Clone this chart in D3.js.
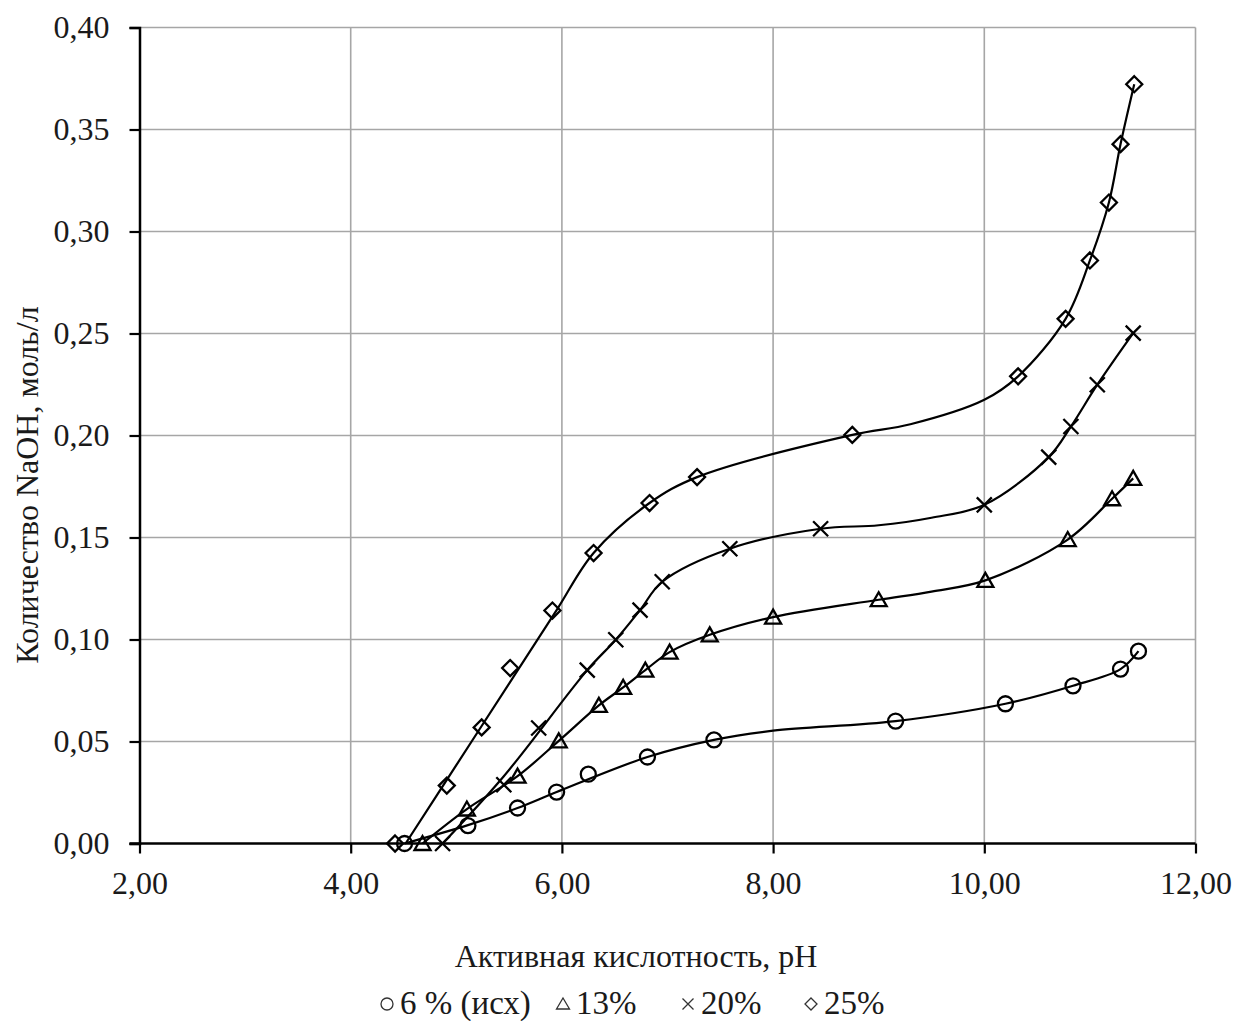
<!DOCTYPE html>
<html><head><meta charset="utf-8">
<script src="https://cdn.jsdelivr.net/npm/d3@7"></script>
<style>body{margin:0;background:#fff}svg{display:block}</style>
</head><body><svg id="c" width="1237" height="1021"></svg>
<script>
// ---- data ----
const xTicks = [2, 4, 6, 8, 10, 12];
const xTickLabels = ["2,00", "4,00", "6,00", "8,00", "10,00", "12,00"];
const yTicks = [0, 0.05, 0.10, 0.15, 0.20, 0.25, 0.30, 0.35, 0.40];
const yTickLabels = ["0,00", "0,05", "0,10", "0,15", "0,20", "0,25", "0,30", "0,35", "0,40"];
const seriesNames = ["6 % (исх)", "13%", "20%", "25%"];
const xTitle = "Активная кислотность, pH";
const yTitle = "Количество NaOH, моль/л";

// measured points (markers)
const ph6   = [4.51, 5.11, 5.58, 5.95, 6.25, 6.81, 7.44, 9.16, 10.20, 10.84, 11.29, 11.46];
const naoh6 = [0.000, 0.0088, 0.0174, 0.0252, 0.034, 0.0424, 0.0508, 0.060, 0.0685, 0.0773, 0.0855, 0.0943];

const ph13   = [4.68, 5.10, 5.58, 5.97, 6.35, 6.58, 6.79, 7.02, 7.40, 8.00, 9.00, 10.01, 10.79, 11.21, 11.41];
const naoh13 = [0.000, 0.0169, 0.033, 0.0503, 0.0677, 0.0765, 0.085, 0.0938, 0.1023, 0.111, 0.1195, 0.129, 0.149, 0.169, 0.179];

const ph20   = [4.87, 5.45, 5.78, 6.24, 6.51, 6.74, 6.95, 7.59, 8.45, 10.00, 10.61, 10.82, 11.07, 11.41];
const naoh20 = [0.000, 0.0288, 0.0566, 0.085, 0.0999, 0.1144, 0.1283, 0.1445, 0.1543, 0.166, 0.1894, 0.2044, 0.2249, 0.2502];

const ph25   = [4.42, 4.91, 5.24, 5.51, 5.91, 6.30, 6.83, 7.28, 8.75, 10.32, 10.77, 11.00, 11.18, 11.29, 11.42];
const naoh25 = [0.000, 0.0284, 0.0569, 0.086, 0.1142, 0.1424, 0.1669, 0.1796, 0.2003, 0.229, 0.2572, 0.2858, 0.3142, 0.3428, 0.3722];

// smoothed curves as drawn in the picture
const curvePh6   = [4.51, 5.11, 5.58, 5.95, 6.81, 7.44, 8.00, 9.16, 10.20, 10.84, 11.29, 11.46];
const curveNaoh6 = [0.000, 0.009, 0.0174, 0.0252, 0.0424, 0.0508, 0.0553, 0.060, 0.0685, 0.0773, 0.0855, 0.0943];

const curvePh13   = [4.68, 5.10, 5.58, 5.97, 6.35, 6.58, 6.79, 7.02, 7.40, 8.00, 9.00, 9.50, 10.01, 10.79, 11.21, 11.41];
const curveNaoh13 = [0.000, 0.0169, 0.033, 0.0503, 0.0677, 0.0765, 0.085, 0.0938, 0.1023, 0.111, 0.1195, 0.1235, 0.129, 0.149, 0.169, 0.179];

const curvePh20   = [4.87, 5.45, 6.24, 6.51, 6.74, 6.95, 7.59, 8.45, 9.00, 9.50, 10.00, 10.61, 10.82, 11.07, 11.41];
const curveNaoh20 = [0.000, 0.033, 0.085, 0.0999, 0.1144, 0.1283, 0.1445, 0.1543, 0.156, 0.1597, 0.166, 0.1894, 0.2044, 0.2249, 0.2502];

const curvePh25   = [4.52, 5.00, 5.50, 5.95, 6.30, 6.83, 7.28, 8.75, 9.30, 10.00, 10.32, 10.77, 11.00, 11.18, 11.29, 11.42];
const curveNaoh25 = [0.000, 0.0384, 0.0784, 0.1144, 0.1424, 0.1669, 0.1796, 0.2003, 0.2055, 0.2175, 0.229, 0.2572, 0.2858, 0.3142, 0.3428, 0.3722];

// ---- layout ----
const svg = d3.select("#c");
const FONT = "'Liberation Serif','Times New Roman',serif";
const x = d3.scaleLinear().domain([2, 12]).range([139.5, 1195.5]);
const y = d3.scaleLinear().domain([0, 0.4]).range([843.5, 27.5]);

const markerPaths = {
  circle: "M7.5,0A7.5,7.5 0 1,1 -7.5,0A7.5,7.5 0 1,1 7.5,0Z",
  triangle: "M0,-7.5L8,6.5L-8,6.5Z",
  cross: "M-7.5,-7.5L7.5,7.5M-7.5,7.5L7.5,-7.5",
  diamond: "M0,-8L8,0L0,8L-8,0Z"
};
const legendPaths = {
  circle: "M6,0A6,6 0 1,1 -6,0A6,6 0 1,1 6,0Z",
  triangle: "M0,-6L6.5,5L-6.5,5Z",
  cross: "M-5.5,-5.5L5.5,5.5M-5.5,5.5L5.5,-5.5",
  diamond: "M0,-6L6,0L0,6L-6,0Z"
};

const series = [
  {name: seriesNames[0], xs: ph6, ys: naoh6, cx: curvePh6, cy: curveNaoh6, shape: "circle"},
  {name: seriesNames[1], xs: ph13, ys: naoh13, cx: curvePh13, cy: curveNaoh13, shape: "triangle"},
  {name: seriesNames[2], xs: ph20, ys: naoh20, cx: curvePh20, cy: curveNaoh20, shape: "cross"},
  {name: seriesNames[3], xs: ph25, ys: naoh25, cx: curvePh25, cy: curveNaoh25, shape: "diamond"}
];

// gridlines
const grid = svg.append("g").attr("stroke", "#a6a6a6").attr("stroke-width", 1.6);
grid.selectAll("line.h").data(yTicks.slice(1)).join("line")
  .attr("x1", x(2)).attr("x2", x(12)).attr("y1", d => y(d)).attr("y2", d => y(d));
grid.selectAll("line.v").data(xTicks.slice(1)).join("line")
  .attr("y1", y(0)).attr("y2", y(0.4)).attr("x1", d => x(d)).attr("x2", d => x(d));

// axes
const xAxis = d3.axisBottom(x).tickValues(xTicks).tickFormat((d, i) => xTickLabels[i]).tickSizeOuter(0).tickSize(10).tickPadding(18);
const yAxis = d3.axisLeft(y).tickValues(yTicks).tickFormat((d, i) => yTickLabels[i]).tickSizeOuter(0).tickSize(10).tickPadding(20);
const gx = svg.append("g").attr("transform", `translate(0,${y(0)})`).call(xAxis);
const gy = svg.append("g").attr("transform", `translate(${x(2)},0)`).call(yAxis);
[gx, gy].forEach(g => {
  g.selectAll("path.domain").attr("stroke", "#000").attr("stroke-width", 2.5);
  g.selectAll(".tick line").attr("stroke", "#000").attr("stroke-width", 2.2);
  g.selectAll(".tick text").attr("font-family", FONT).attr("font-size", 32).attr("fill", "#1a1a1a");
});
gx.select("path.domain").attr("d", `M${x(2) - 10},0H${x(12)}`);
gx.selectAll(".tick text").attr("dy", "0.71em").attr("y", 28);

// lines + markers
const line = d3.line().x(d => x(d[0])).y(d => y(d[1])).curve(d3.curveCatmullRom.alpha(0.5));
const plot = svg.append("g");
series.forEach(s => {
  const cpts = s.cx.map((v, i) => [v, s.cy[i]]);
  plot.append("path").datum(cpts).attr("d", line)
    .attr("fill", "none").attr("stroke", "#000").attr("stroke-width", 2.2);
  const pts = s.xs.map((v, i) => [v, s.ys[i]]);
  plot.append("g").selectAll("path").data(pts).join("path")
    .attr("transform", d => `translate(${x(d[0])},${y(d[1])})`)
    .attr("d", markerPaths[s.shape])
    .attr("fill", "none").attr("stroke", "#000").attr("stroke-width", 2.3);
});

// axis titles
svg.append("text").attr("x", 636).attr("y", 967).attr("text-anchor", "middle")
  .attr("font-family", FONT).attr("font-size", 32).attr("fill", "#1a1a1a").text(xTitle);
svg.append("text").attr("transform", "translate(38,485) rotate(-90)").attr("text-anchor", "middle")
  .attr("font-family", FONT).attr("font-size", 32).attr("fill", "#1a1a1a").text(yTitle);

// legend
const legendX = [387, 563, 688, 811];
const leg = svg.append("g");
series.forEach((s, i) => {
  leg.append("path").attr("transform", `translate(${legendX[i]},1004)`).attr("d", legendPaths[s.shape])
    .attr("fill", "none").attr("stroke", "#333").attr("stroke-width", 1.3);
  leg.append("text").attr("x", legendX[i] + 13).attr("y", 1014)
    .attr("font-family", FONT).attr("font-size", 33).attr("fill", "#1a1a1a").text(s.name);
});
</script></body></html>
